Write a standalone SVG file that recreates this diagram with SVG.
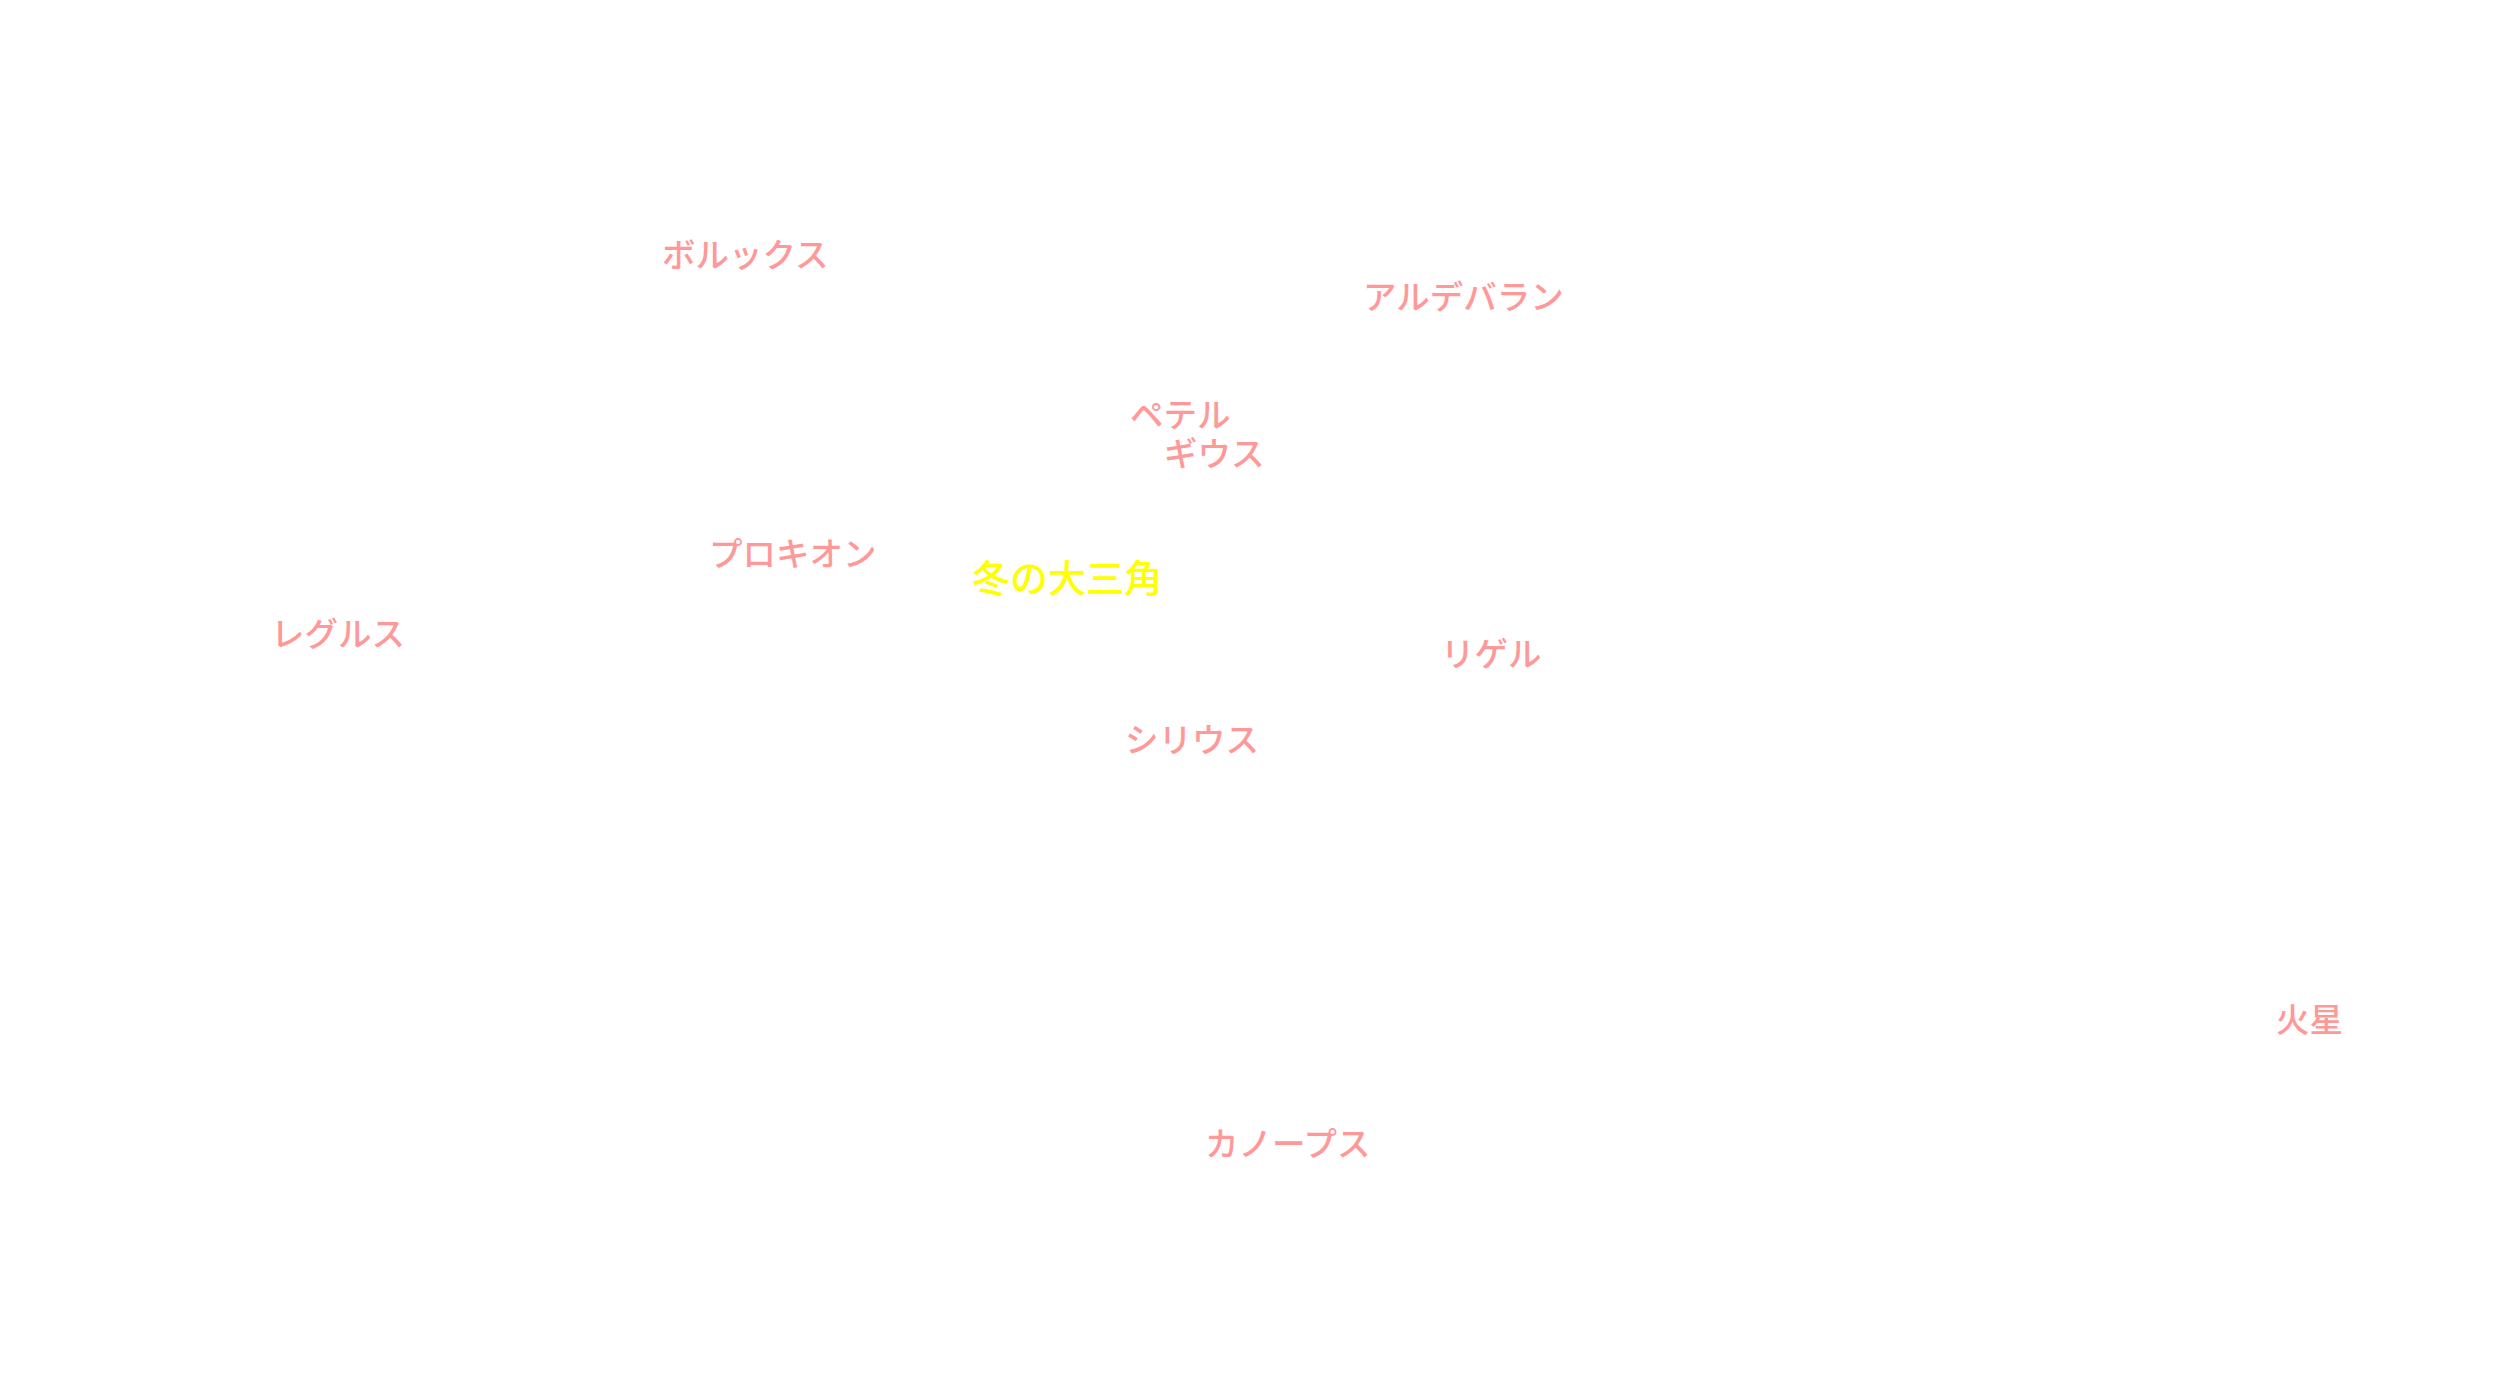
<svg xmlns="http://www.w3.org/2000/svg" width="2500" height="1400" viewBox="0 0 2500 1400">
<style>
text{font-family:"Noto Sans CJK JP","Noto Sans",sans-serif;}
.star{fill:#ff9999;font-size:33.5px;font-weight:500;}
.title{fill:#ffff00;font-size:38px;font-weight:500;}
</style>
<rect x="0" y="0" width="2500" height="1400" fill="#ffffff"/>
<g id="connectors"></g>
<g id="pollux"><text class="star" x="662" y="267">ボルックス</text></g>
<g id="aldebaran"><text class="star" x="1363" y="309">アルデバラン</text></g>
<g id="betelgeuse"><text class="star"><tspan x="1130" y="427">ペテル</tspan><tspan x="1164" y="466">ギウス</tspan></text></g>
<g id="procyon"><text class="star" x="709" y="566">プロキオン</text></g>
<g id="winter-triangle"><text class="title" x="972" y="592">冬の大三角</text></g>
<g id="regulus"><text class="star" x="271" y="646">レグルス</text></g>
<g id="rigel"><text class="star" x="1441" y="666">リゲル</text></g>
<g id="sirius"><text class="star" x="1125" y="752">シリウス</text></g>
<g id="canopus"><text class="star" x="1205" y="1156">カノープス</text></g>
<g id="mars"><text class="star" x="2276" y="1032">火星</text></g>
</svg>
